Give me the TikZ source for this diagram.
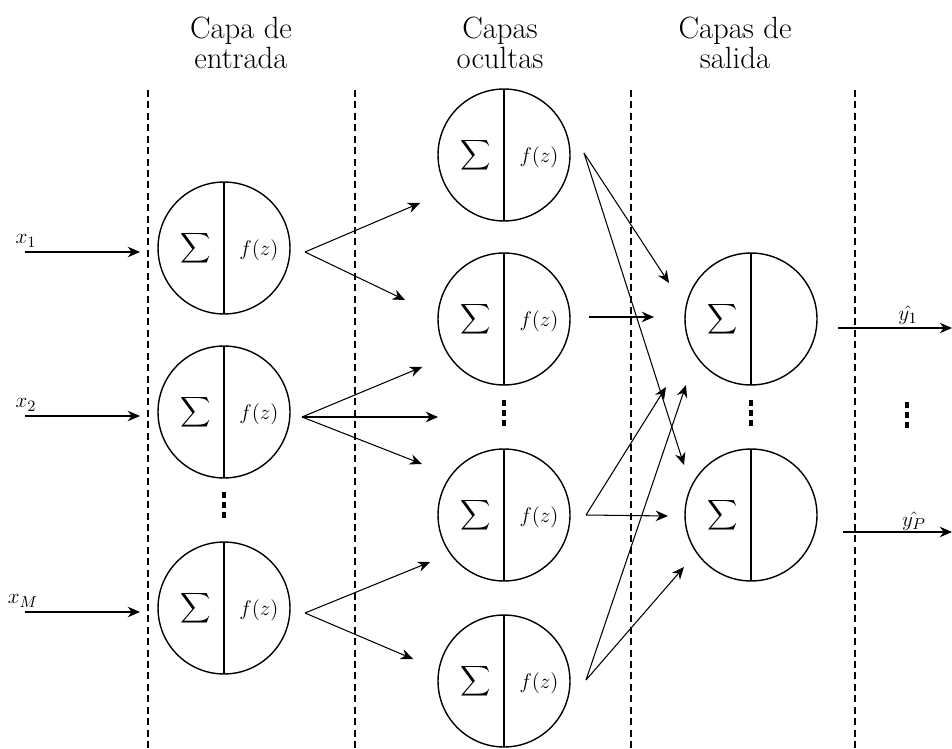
\documentclass[tikz,border=0pt]{standalone}
\usepackage{amsmath}
\usetikzlibrary{arrows.meta,calc}
\tikzset{neuron/.style={draw,circle,line width=0.8pt,minimum size=2.64cm,inner sep=0pt,
  path picture={\draw[line width=0.8pt] (path picture bounding box.north) -- (path picture bounding box.south);}},
  arr/.style={-{Stealth[length=7pt,width=6pt]},line width=0.6pt},
  sep/.style={dash pattern=on 4pt off 2.5pt,line width=0.6pt},
  layer/.style={align=center,inner sep=0pt,font=\fontfamily{ptm}\fontsize{17.5}{17}\selectfont},
  lbl/.style={inner sep=0pt,font=\fontsize{13}{15}\selectfont}}
\newcommand{\sqdots}{\vbox{\baselineskip=5.7pt\lineskiplimit=-10pt
  \hbox{\rule{2.6pt}{2.9pt}}\hbox{\rule{2.6pt}{2.9pt}}\hbox{\rule{2.6pt}{2.9pt}}}}

\begin{document}
\begin{tikzpicture}[x=0.02cm,y=-0.02cm]
  \useasboundingbox (0,0) rectangle (952,749);
  \foreach \xs in {148,355,631,855}
    \draw[sep] (\xs,90) -- (\xs,749);
  \node[layer] (tin) at (241,43) {Capa de\\entrada};
  \node[layer] (thid) at (500,43) {Capas\\ocultas};
  \node[layer] (tout) at (735,43) {Capas de\\salida};
  % neurons
  \foreach \n/\xn/\yn in {i1/224/248,i2/224/412,i3/224/608,
      h1/504/155,h2/504/319,h3/504/515,h4/504/681,o1/751/319,o2/751/515}
    \node[neuron] (\n) at (\xn,\yn) {};
  \foreach \n in {i1,i2,i3,h1,h2,h3,h4,o1,o2}
    \node[lbl] (\n-s) at ($(\n)+(-28,0)$) {$\displaystyle\sum$};
  \foreach \n in {i1,i2,i3,h1,h2,h3,h4}
    \node[lbl] (\n-f) at ($(\n)+(35,2)$) {$f(z)$};
  \node[lbl] (di) at (224,505) {\sqdots};
  \node[lbl] (dh) at (504,413) {\sqdots};
  \node[lbl] (do) at (751,413) {\sqdots};
  \node[lbl] (dy) at (907,415) {\sqdots};
  % inputs
  \foreach \n/\l/\dx in {i1/x_1/-198,i2/x_2/-198,i3/x_M/-201}{
    \node[lbl] (\n-x) at ($(\n)+(\dx,-7)$) {$\l$};
    \draw[arr] ($(\n)+(-199,4)$) -- ($(\n)+(-84,4)$);}
  % input -> hidden
  \draw[arr] ($(i1)+(81,4)$) -- ($(h1)+(-84,48)$);
  \draw[arr] ($(i1)+(81,4)$) -- ($(h2)+(-99,-19)$);
  \draw[arr] ($(i2)+(78,5)$) -- ($(h2)+(-82,48)$);
  \draw[arr] ($(i2)+(78,5)$) -- ($(dh)+(-66,4)$);
  \draw[arr] ($(i2)+(78,5)$) -- ($(h3)+(-82,-51)$);
  \draw[arr] ($(i3)+(81,5)$) -- ($(h3)+(-74,47)$);
  \draw[arr] ($(i3)+(81,5)$) -- ($(h4)+(-91,-22)$);
  % hidden -> output
  \draw[arr] ($(h1)+(80,-2)$) -- ($(o1)+(-82,-36)$);
  \draw[arr] ($(h1)+(80,-2)$) -- ($(o2)+(-67,-50)$);
  \draw[arr] ($(h2)+(85,-2)$) -- ($(o1)+(-97,-2)$);
  \draw[arr] ($(h3)+(82,0)$) -- ($(o1)+(-85,68)$);
  \draw[arr] ($(h3)+(82,0)$) -- ($(o2)+(-83,1)$);
  \draw[arr] ($(h4)+(82,-1)$) -- ($(o1)+(-65,66)$);
  \draw[arr] ($(h4)+(82,-1)$) -- ($(o2)+(-67,52)$);
  % outputs
  \draw[arr] ($(o1)+(87,9)$) -- ($(o1)+(201,9)$);
  \draw[arr] ($(o2)+(92,17)$) -- ($(o2)+(201,17)$);
  \node[lbl] (o1-y) at ($(o1)+(157,-4)$) {$\hat{y_1}$};
  \node[lbl] (o2-y) at ($(o2)+(163,6)$) {$\hat{y_P}$};
\end{tikzpicture}
\end{document}
